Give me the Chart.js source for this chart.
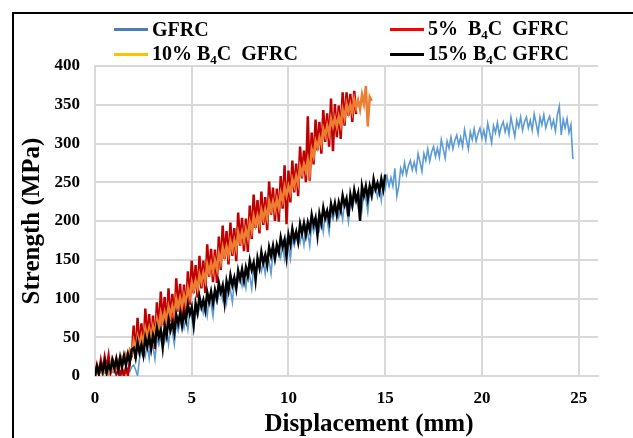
<!DOCTYPE html>
<html>
<head>
<meta charset="utf-8">
<script src="https://cdn.jsdelivr.net/npm/chart.js@4.4.1/dist/chart.umd.min.js"></script>
<style>
  html, body { margin: 0; padding: 0; background: #fff; overflow: hidden; }
  #frame { position: absolute; left: 12px; top: 12px; width: 700px; height: 500px; border: 2px solid #000; }
  #wrap { position: absolute; left: 0; top: 0; width: 633px; height: 438px; }
  #legend { position: absolute; left: 0; top: 0; width: 633px; height: 66px;
            font-family: 'Liberation Serif', 'Times New Roman', serif; font-weight: bold; font-size: 20px; color: #000; }
  .item { position: absolute; display: flex; align-items: center; height: 20px; white-space: pre; line-height: 20px; }
  .swatch { width: 34px; height: 3px; margin-right: 4px; }
  .sub { font-size: 13px; position: relative; top: 4px; }
</style>
</head>
<body>
<div id="frame"></div>
<div id="wrap"><canvas id="strengthChart"></canvas></div>
<div id="legend"></div>
<script>
// displacement sampled every 0.1 mm, starting at 0
var xStep = 0.1;

var seriesNames = ["GFRC", "5%  B4C  GFRC", "10% B4C  GFRC", "15% B4C GFRC"];
var lineColors = ["#5b9bd5", "#c00000", "#ed7d31", "#000000"];
var legendColors = ["#4a7ebb", "#ff0000", "#ffc000", "#000000"];
var lineWidths = [1.6, 2.5, 2.5, 2.5];

var xTicks = [0, 5, 10, 15, 20, 25];
var yTicks = [0, 50, 100, 150, 200, 250, 300, 350, 400];

// strength (MPa)
var gfrcY = [
  0, 4, 2, 6, 1, 5, 3, 7, 2, 6, 4, 8, 3, 6, 2, 7, 4, 9, 6, 12, 14, 8, 0, 22, 30,
  38, 26, 40, 23, 47, 38, 22, 49, 40, 51,
  56, 44, 58, 41, 65, 57, 41, 68, 58, 69,
  74, 62, 76, 60, 84, 76, 60, 86, 77, 88,
  93, 81, 94, 78, 102, 93, 77, 104, 95, 105,
  110, 98, 112, 95, 119, 111, 95, 122, 112, 123,
  128, 116, 130, 114, 137, 129, 113, 140, 131, 142,
  147, 135, 148, 132, 156, 148, 132, 159, 149, 160,
  165, 153, 167, 151, 175, 167, 151, 177, 168, 179,
  184, 172, 185, 169, 193, 184, 168, 195, 186, 196,
  201, 189, 203, 186, 210, 201, 185, 211, 202, 213,
  217, 205, 218, 202, 225, 216, 199, 226, 216, 227,
  231, 218, 232, 215, 238, 229, 212, 239, 229, 239,
  243, 231, 244, 227, 250, 241,
  257, 245, 256, 245, 268, 232, 245, 268, 260, 275,
  260, 271, 278, 266, 276, 265, 287, 276, 264, 287,
  278, 293, 277, 289, 296, 283, 294, 282, 305, 293,
  281, 303, 294, 308, 293, 304, 311, 298, 308, 296,
  318, 305, 293, 315, 305, 319, 303, 313, 320, 307,
  317, 304, 326, 314, 301, 323, 314, 327, 311, 322,
  328, 315, 325, 312, 334, 321, 309, 330, 321, 334,
  317, 328, 334, 320, 330, 317, 338, 326, 313, 334,
  324, 337, 320, 329, 335, 321, 330, 316, 337, 348,
  311, 331, 320, 332, 314, 324, 280
];

var b4c5Y = [
  2, 14, 4, 20, 7, 24, 10, 26, 6, 22,
  15, 3, 12, 0, 9, 0, 11, 1, 20, 26,
  65, 22, 75, 33, 68, 25, 87, 44, 80, 37,
  78, 35, 95, 52, 109, 66, 102, 59, 113, 70,
  106, 63, 126, 83, 119, 76, 118, 75, 135, 92,
  149, 107, 143, 101, 155, 113, 149, 107, 170, 128,
  164, 121, 163, 120, 180, 137, 194, 151, 187, 144,
  198, 155, 191, 148, 211, 168, 204, 161, 203, 160,
  220, 177, 234, 191, 227, 184, 238, 195, 231, 188,
  251, 208, 243, 200, 242, 199, 258, 216, 272, 196,
  265, 224, 278, 237, 274, 232, 296, 255, 291, 250,
  335, 252, 314, 273, 331, 291, 328, 287, 343, 302,
  339, 296, 358, 290, 351, 308, 349, 306, 366, 323,
  366, 336, 364, 328, 368, 338
];

var b4c10Y = [
  0, 6, 2, 9, 3, 8, 12, 4, 14, 8,
  16, 10, 20, 14, 24, 18, 28, 22, 34, 30,
  45, 34, 51, 41, 52, 41, 61, 50, 62, 51,
  64, 53, 73, 62, 81, 70, 82, 71, 89, 78,
  90, 79, 100, 89, 101, 90, 104, 93, 113, 102,
  121, 111, 123, 113, 131, 121, 133, 123, 144, 134,
  146, 135, 149, 138, 158, 147, 166, 155, 167, 156,
  174, 163, 175, 164, 185, 174, 186, 175, 189, 178,
  198, 187, 206, 195, 207, 196, 214, 203, 215, 204,
  225, 214, 225, 214, 228, 217, 236, 226, 244, 233,
  245, 236, 254, 245, 258, 248, 270, 261, 273, 264,
  279, 262, 292, 283, 303, 295, 308, 299, 319, 310,
  323, 312, 332, 322, 333, 322, 335, 324, 344, 333,
  351, 340, 351, 340, 357, 346, 356, 344, 363, 351,
  374, 322, 360, 355
];

var b4c15Y = [
  0, 12, 3, 15, 6, 18, 4, 16, 8, 20,
  10, 22, 8, 24, 12, 26, 14, 28, 18, 34,
  36, 24, 43, 30, 40, 27, 49, 38, 51, 35,
  52, 42, 62, 50, 59, 37, 64, 52, 72, 59,
  69, 56, 79, 68, 81, 65, 82, 72, 92, 80,
  89, 67, 94, 82, 102, 89, 98, 85, 108, 96,
  109, 94, 111, 100, 120, 108, 117, 95, 122, 110,
  130, 117, 127, 113, 136, 125, 138, 123, 140, 129,
  149, 137, 146, 124, 152, 140, 160, 146, 156, 143,
  166, 155, 168, 152, 169, 159, 179, 167, 176, 154,
  182, 170, 190, 176, 186, 173, 196, 184, 197, 182,
  198, 188, 208, 195, 204, 182, 209, 197, 217, 204,
  213, 200, 222, 211, 223, 208, 224, 214, 233, 221,
  229, 206, 234, 221, 240, 227, 236, 200, 245, 233,
  245, 229, 245, 234, 254, 241, 249, 238, 254, 241,
  260
];

var allY = [gfrcY, b4c5Y, b4c10Y, b4c15Y];

function toPoints(ys) {
  return ys.map(function (y, i) { return { x: +(i * xStep).toFixed(1), y: y }; });
}

Chart.defaults.font.family = "'Liberation Serif', 'Times New Roman', serif";
Chart.defaults.color = "#000";

var datasets = allY.map(function (ys, i) {
  return {
    label: seriesNames[i],
    data: toPoints(ys),
    borderColor: lineColors[i],
    borderWidth: lineWidths[i],
    pointRadius: 0,
    fill: false,
    tension: 0,
    order: 4 - i
  };
});

// x axis title sits centred on the whole frame, not on the plot
var xTitlePlugin = {
  id: "xTitle",
  afterDraw: function (chart) {
    var ctx = chart.ctx;
    ctx.save();
    ctx.font = "bold 25px 'Liberation Serif', 'Times New Roman', serif";
    ctx.fillStyle = "#000";
    ctx.textAlign = "center";
    ctx.textBaseline = "middle";
    ctx.fillText("Displacement (mm)", 369, 425);
    ctx.restore();
  }
};

new Chart("strengthChart", {
  type: "line",
  data: { datasets: datasets },
  plugins: [xTitlePlugin],
  options: {
    responsive: true,
    maintainAspectRatio: false,
    animation: false,
    layout: { padding: { left: 0, right: 35, top: 66, bottom: 0 } },
    plugins: {
      legend: { display: false },
      tooltip: { enabled: false }
    },
    scales: {
      x: {
        type: "linear",
        min: 0,
        max: 26,
        afterBuildTicks: function (s) { s.ticks = xTicks.map(function (v) { return { value: v }; }); },
        afterFit: function (s) { s.height = 62; },
        ticks: { padding: 12, font: { size: 17, weight: "bold" } },
        grid: { color: "#d9d9d9", lineWidth: 2, drawTicks: false },
        border: { color: "#d9d9d9", width: 2 }
      },
      y: {
        min: 0,
        max: 400,
        afterBuildTicks: function (s) { s.ticks = yTicks.map(function (v) { return { value: v }; }); },
        afterFit: function (s) { s.width = 95; },
        ticks: { padding: 15, font: { size: 17, weight: "bold" } },
        grid: { color: "#d9d9d9", lineWidth: 2, drawTicks: false },
        border: { color: "#d9d9d9", width: 2 },
        title: { display: true, text: "Strength (MPa)", padding: { top: 20, bottom: 0 },
                 font: { size: 25, weight: "bold", lineHeight: 1 } }
      }
    }
  }
});

// legend: two columns, two rows, B4C with subscript 4
var legendX = [114, 390];
var legendRowY = [29, 54];
var legendBox = document.getElementById("legend");
seriesNames.forEach(function (name, i) {
  var item = document.createElement("div");
  item.className = "item";
  item.style.left = legendX[i % 2] + "px";
  item.style.top = (legendRowY[Math.floor(i / 2)] - 10) + "px";
  var sw = document.createElement("span");
  sw.className = "swatch";
  sw.style.background = legendColors[i];
  item.appendChild(sw);
  var txt = document.createElement("span");
  txt.innerHTML = name.replace("B4C", "B<span class=\"sub\">4</span>C");
  item.appendChild(txt);
  legendBox.appendChild(item);
});
</script>
</body>
</html>
